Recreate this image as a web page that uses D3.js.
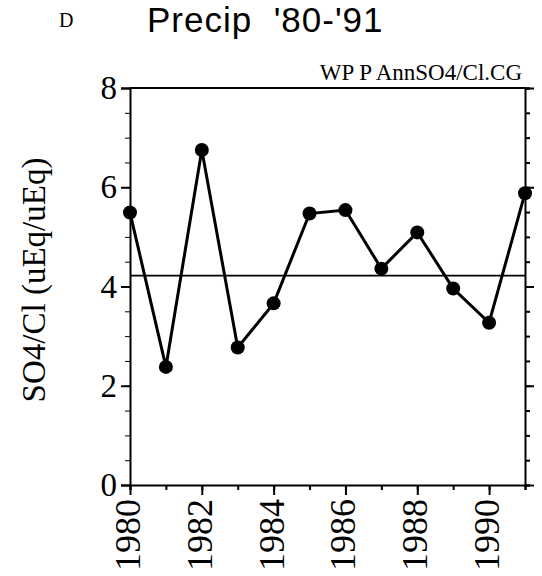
<!DOCTYPE html>
<html>
<head>
<meta charset="utf-8">
<script src="https://cdn.jsdelivr.net/npm/d3@7"></script>
<style>
  body { margin: 0; background: #fff; }
  svg { display: block; }
  text { white-space: pre; }
</style>
</head>
<body>
<svg id="chart" width="542" height="576"></svg>
<script>
// Annual SO4/Cl ratios
var years = [1980, 1981, 1982, 1983, 1984, 1985, 1986, 1987, 1988, 1989, 1990, 1991];
var ratios = [5.49, 2.38, 6.75, 2.77, 3.66, 5.47, 5.54, 4.36, 5.09, 3.96, 3.27, 5.88];
var meanRatio = [4.22];
var yTicks = [0, 2, 4, 6, 8];
var xTicks = [1980, 1982, 1984, 1986, 1988, 1990];

var svg = d3.select("#chart");
var serif = "'Liberation Serif', 'Times New Roman', serif";
var sans = "'Liberation Sans', Arial, sans-serif";

// Scales
var x = d3.scaleLinear().domain([1980, 1991]).range([130, 525]);
var y = d3.scaleLinear().domain([0, 8]).range([485, 88]);

// Left axis, major + minor ticks
var yMinor = d3.range(0, 8.01, 0.5);
svg.append("g")
    .attr("transform", `translate(${x(1980)},0)`)
    .call(d3.axisLeft(y).tickValues(yMinor).tickSize(5).tickFormat(""))
    .call(g => g.select(".domain").remove());
svg.append("g")
    .attr("transform", `translate(${x(1980)},0)`)
    .call(d3.axisLeft(y).tickValues(yTicks).tickSize(9).tickPadding(4).tickFormat(d3.format("d")))
    .call(g => g.selectAll("text").attr("font-family", serif).attr("font-size", 33).attr("fill", "#000"))
    .call(g => g.selectAll("line, path").attr("stroke-width", 2));

// Right axis, ticks point outward
svg.append("g")
    .attr("transform", `translate(${x(1991)},0)`)
    .call(d3.axisRight(y).tickValues(yMinor).tickSize(5).tickFormat(""))
    .call(g => g.selectAll("line, path").attr("stroke-width", 2));
svg.append("g")
    .attr("transform", `translate(${x(1991)},0)`)
    .call(d3.axisRight(y).tickValues(yTicks).tickSize(9).tickFormat(""))
    .call(g => g.select(".domain").remove())
    .call(g => g.selectAll("line").attr("stroke-width", 2));

// Bottom axis
svg.append("g")
    .attr("transform", `translate(0,${y(0)})`)
    .call(d3.axisBottom(x).tickValues(d3.range(1980, 1992)).tickSize(5).tickFormat(""))
    .call(g => g.selectAll("line, path").attr("stroke-width", 2));
svg.append("g")
    .attr("transform", `translate(0,${y(0)})`)
    .call(d3.axisBottom(x).tickValues(xTicks).tickSize(10).tickFormat(""))
    .call(g => g.select(".domain").remove())
    .call(g => g.selectAll("line").attr("stroke-width", 2));

// Rotated year labels
svg.append("g").selectAll("text")
    .data(xTicks)
    .join("text")
    .attr("transform", d => `translate(${x(d) + 10},${y(0) + 14}) rotate(-90)`)
    .attr("text-anchor", "end")
    .attr("font-family", serif)
    .attr("font-size", 36)
    .text(d => d);

// Top frame line
svg.append("line")
    .attr("x1", x(1980)).attr("x2", x(1991))
    .attr("y1", y(8)).attr("y2", y(8))
    .attr("stroke", "#000").attr("stroke-width", 2);

// Mean line
svg.selectAll(".mean")
    .data(meanRatio)
    .join("line")
    .attr("class", "mean")
    .attr("x1", x(1980)).attr("x2", x(1991))
    .attr("y1", d => y(d)).attr("y2", d => y(d))
    .attr("stroke", "#000").attr("stroke-width", 1.8);

// Series line and markers
var pts = years.map((d, i) => [d, ratios[i]]);
svg.append("path")
    .datum(pts)
    .attr("fill", "none")
    .attr("stroke", "#000")
    .attr("stroke-width", 3)
    .attr("d", d3.line().x(d => x(d[0])).y(d => y(d[1])));

svg.selectAll(".dot")
    .data(pts)
    .join("circle")
    .attr("class", "dot")
    .attr("cx", d => x(d[0]))
    .attr("cy", d => y(d[1]))
    .attr("r", 7)
    .attr("fill", "#000");

// Texts
svg.append("text")
    .attr("x", 59).attr("y", 27)
    .attr("font-family", serif)
    .attr("font-size", 20)
    .text("D");

svg.append("text")
    .attr("x", 147).attr("y", 32)
    .attr("font-family", sans)
    .attr("font-size", 35)
    .attr("letter-spacing", 1)
    .text("Precip  '80-'91");

svg.append("text")
    .attr("x", 522).attr("y", 80)
    .attr("text-anchor", "end")
    .attr("font-family", serif)
    .attr("font-size", 23)
    .text("WP P AnnSO4/Cl.CG");

svg.append("text")
    .attr("transform", `translate(45,280) rotate(-90)`)
    .attr("text-anchor", "middle")
    .attr("font-family", serif)
    .attr("font-size", 33)
    .text("SO4/Cl (uEq/uEq)");
</script>
</body>
</html>
